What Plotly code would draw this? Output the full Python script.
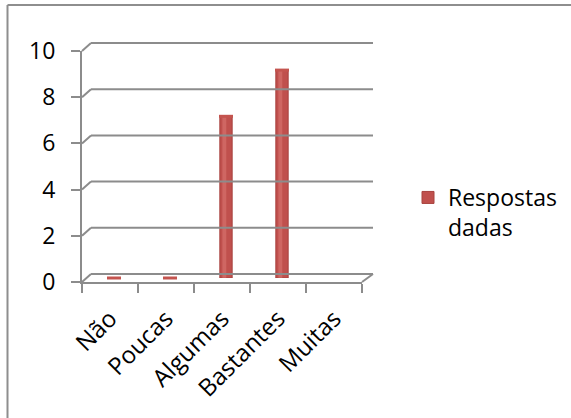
import plotly.graph_objects as go

# Survey answers ("Muitas" has no answer recorded)
categories = ["Não", "Poucas", "Algumas", "Bastantes", "Muitas"]
respostas = [0, 0, 7, 9, None]
series_name = "Respostas<br>dadas"
y_ticks = [0, 2, 4, 6, 8, 10]
y_max = 10

W, H = 571, 418
GRID = "#8c8c8c"
RED = "#c0504d"
FONT = "Open Sans"


def px_x(p):
    return p / W


def px_y(p):
    return 1 - p / H


# Front plane (axes and labels), back wall (gridlines) and mid-depth plane (columns)
front_x = (82, 362)
front_y = (282, 51)
depth = 9
back_x = (front_x[0] + depth, front_x[1] + depth + 2)
back_y = (front_y[0] - 8, front_y[1] - 8)
mid_x = (front_x[0] + 4, front_x[1] + 4)
mid_y = (front_y[0] - 4, front_y[1] - 4)


def wall_y(v, plane):
    """Paper y of value v on a plane given as (bottom_px, top_px)."""
    lo, hi = px_y(plane[0]), px_y(plane[1])
    return lo + (hi - lo) * v / y_max


fig = go.Figure()

# invisible series on the front axes so they are laid out
fig.add_trace(go.Scatter(
    x=categories, y=respostas, xaxis="x", yaxis="y", mode="markers",
    marker=dict(opacity=0), showlegend=False, hoverinfo="skip",
))
fig.add_trace(go.Bar(
    x=categories, y=respostas, name=series_name,
    xaxis="x3", yaxis="y3", width=0.22,
    marker=dict(color=RED, line=dict(color="#a8423f", width=1)),
    showlegend=True,
))
# light highlight down the column to suggest the cylinder shading
fig.add_trace(go.Bar(
    x=categories, y=respostas, xaxis="x3", yaxis="y3", width=0.07,
    offset=-0.065,
    marker=dict(color="rgba(230,135,130,0.4)", line=dict(width=0)),
    showlegend=False, hoverinfo="skip",
))
# elliptical top caps (also visible for zero-height columns)
fig.add_trace(go.Scatter(
    x=categories, y=respostas, xaxis="x3", yaxis="y3", mode="markers",
    marker=dict(symbol="line-ew", size=10, line=dict(color="#c4544f", width=3)),
    showlegend=False, hoverinfo="skip", cliponaxis=False,
))

shapes = []
line_style = dict(color=GRID, width=2)
# back wall gridlines and the short connectors to the front axis
for v in y_ticks:
    yb = wall_y(v, back_y)
    yf = wall_y(v, front_y)
    shapes.append(dict(type="line", xref="paper", yref="paper",
                       x0=px_x(back_x[0]), x1=px_x(back_x[1]), y0=yb, y1=yb,
                       line=line_style))
    shapes.append(dict(type="line", xref="paper", yref="paper",
                       x0=px_x(front_x[0]), x1=px_x(back_x[0]), y0=yf, y1=yb,
                       line=line_style))
# right edge of the floor
shapes.append(dict(type="line", xref="paper", yref="paper",
                   x0=px_x(front_x[1]), x1=px_x(back_x[1]),
                   y0=wall_y(0, front_y), y1=wall_y(0, back_y),
                   line=line_style))
# chart area border (top and left edges)
shapes.append(dict(type="line", xref="paper", yref="paper",
                   x0=px_x(7.5), x1=1.01, y0=px_y(5), y1=px_y(5),
                   line=dict(color="#8e8e8e", width=2)))
shapes.append(dict(type="line", xref="paper", yref="paper",
                   x0=px_x(7.5), x1=px_x(7.5), y0=px_y(5), y1=-0.01,
                   line=dict(color="#8e8e8e", width=2)))

hidden = dict(showgrid=False, zeroline=False, showticklabels=False,
              showline=False, ticks="")

fig.update_layout(
    width=W, height=H,
    margin=dict(l=0, r=0, t=0, b=0, autoexpand=False),
    paper_bgcolor="white", plot_bgcolor="rgba(0,0,0,0)",
    barmode="overlay",
    font=dict(family=FONT, size=22, color="black"),
    xaxis=dict(domain=[px_x(front_x[0]), px_x(front_x[1])],
               type="category", categoryorder="array", categoryarray=categories,
               range=[-0.5, 4.5], anchor="y", automargin=False,
               showgrid=False, zeroline=False,
               showline=True, linecolor=GRID, linewidth=2,
               ticks="outside", tickson="boundaries", ticklen=9,
               tickcolor=GRID, tickwidth=2, ticklabelstandoff=11,
               tickangle=-45, tickfont=dict(family=FONT, size=24)),
    yaxis=dict(domain=[px_y(front_y[0]), px_y(front_y[1])],
               range=[0, y_max], tickvals=y_ticks, anchor="x", automargin=False,
               showgrid=False, zeroline=False,
               showline=True, linecolor=GRID, linewidth=2,
               ticks="outside", ticklen=9, tickcolor=GRID, tickwidth=2,
               ticklabelstandoff=11,
               tickfont=dict(family=FONT, size=23)),
    xaxis3=dict(domain=[px_x(mid_x[0]), px_x(mid_x[1])],
                type="category", categoryorder="array", categoryarray=categories,
                range=[-0.5, 4.5], anchor="y3", automargin=False, **hidden),
    yaxis3=dict(domain=[px_y(mid_y[0]), px_y(mid_y[1])], range=[0, y_max],
                anchor="x3", automargin=False, **hidden),
    legend=dict(x=px_x(408), y=px_y(176), xanchor="left", yanchor="top",
                valign="top", bgcolor="rgba(0,0,0,0)",
                font=dict(family=FONT, size=23),
                itemwidth=30, tracegroupgap=0),
    shapes=shapes,
)

fig.write_html("out.html")
